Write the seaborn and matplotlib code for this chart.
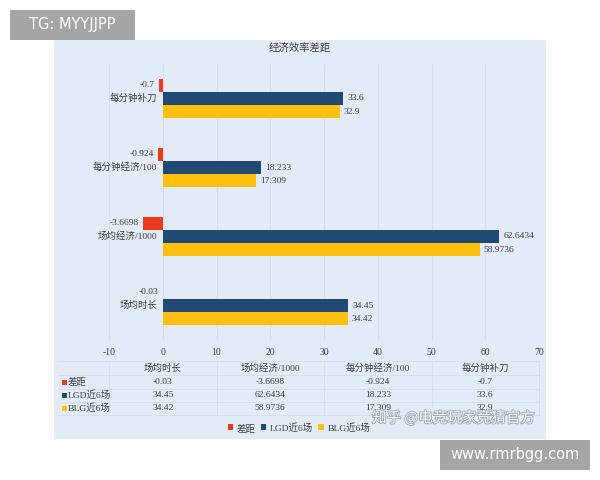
import matplotlib as mpl
mpl.use('Agg')
import matplotlib.pyplot as plt
import matplotlib.patheffects as pe
from matplotlib.patches import Rectangle
import numpy as np
import pandas as pd
import seaborn as sns

# data (category order: top to bottom as drawn)
categories = ["每分钟补刀", "每分钟经济/100", "场均经济/1000", "场均时长"]
series = ["差距", "LGD近6场", "BLG近6场"]
gap_vals = [-0.7, -0.924, -3.6698, -0.03]
lgd_vals = [33.6, 18.233, 62.6434, 34.45]
blg_vals = [32.9, 17.309, 58.9736, 34.42]
gap_txt = ["-0.7", "-0.924", "-3.6698", "-0.03"]
lgd_txt = ["33.6", "18.233", "62.6434", "34.45"]
blg_txt = ["32.9", "17.309", "58.9736", "34.42"]
# the table under the chart lists the categories in Excel order
table_cats = categories[::-1]

COLORS = ["#ee3a1c", "#204a74", "#fdc010"]
PANEL = "#e3ebf6"
TEXT = "#3f3f3f"
GRID = "#d6dfeb"
FONT = ["Liberation Serif", "Noto Sans CJK SC", "DejaVu Sans"]
FS = 6.8

sns.set_theme(style="white")
plt.rcParams['font.family'] = FONT
plt.rcParams['axes.unicode_minus'] = False

df = pd.DataFrame({
    "cat": categories * 3,
    "series": np.repeat(series, len(categories)),
    "value": gap_vals + lgd_vals + blg_vals,
})

W, H = 600, 480
fig = plt.figure(figsize=(6, 4.8), dpi=100)
fig.patch.set_facecolor("white")


def fx(px):
    return px / W


def fy(py):
    return 1 - py / H


# light blue chart panel
fig.add_artist(Rectangle((fx(54), fy(439)), fx(546) - fx(54), fy(40) - fy(439),
                         transform=fig.transFigure, facecolor=PANEL,
                         edgecolor="none", zorder=0))

ax = fig.add_axes([fx(109), fy(340), fx(539) - fx(109), fy(64) - fy(340)])
ax.set_facecolor("none")

sns.barplot(data=df, y="cat", x="value", hue="series", order=categories,
            hue_order=series, palette=COLORS, orient="h", width=0.57,
            errorbar=None, legend=False, saturation=1, linewidth=0, ax=ax)

ax.set_xlim(-10, 70)
ax.set_xticks(np.arange(-10, 71, 10))
ax.set_ylim(len(categories) - 0.5, -0.5)
ax.set_xlabel("")
ax.set_ylabel("")
ax.set_yticks([])
for s in ax.spines.values():
    s.set_visible(False)
ax.grid(axis="x", color=GRID, lw=0.8)
ax.set_axisbelow(True)
ax.tick_params(axis="x", length=0, labelsize=7, labelcolor=TEXT, pad=6)

for cont, labels in zip(ax.containers, [gap_txt, lgd_txt, blg_txt]):
    ax.bar_label(cont, labels=labels, padding=3, fontsize=FS, color=TEXT)

# category names sit next to the zero axis
for i, c in enumerate(categories):
    ax.annotate(c, (0, i), xytext=(-4, 0), textcoords="offset points",
                ha="right", va="center", fontsize=FS, color=TEXT)

fig.text(0.5, fy(48), "经济效率差距", ha="center", va="center",
         fontsize=7.5, color=TEXT)

# data table below the axis
x0, x1 = ax.get_xlim()
ncol = len(table_cats)
col_w = (x1 - x0) / ncol
tr = ax.transData + fig.transFigure.inverted()


def col_fx(xd):
    return tr.transform((xd, 0))[0]


row_y = [368, 382, 395, 408]
rows = [gap_txt[::-1], lgd_txt[::-1], blg_txt[::-1]]
for j, c in enumerate(table_cats):
    cx = col_fx(x0 + col_w * (j + 0.5))
    fig.text(cx, fy(row_y[0]), c, ha="center", va="center", fontsize=FS,
             color=TEXT)
    for r, vals in enumerate(rows):
        fig.text(cx, fy(row_y[r + 1]), vals[j], ha="center", va="center",
                 fontsize=FS, color=TEXT)
for r, (name, col) in enumerate(zip(series, COLORS)):
    fig.add_artist(Rectangle((fx(62), fy(row_y[r + 1] + 2.5)), fx(5), 5 / H,
                             transform=fig.transFigure, facecolor=col,
                             edgecolor="none"))
    fig.text(fx(68), fy(row_y[r + 1]), name, ha="left", va="center",
             fontsize=FS, color=TEXT)

# faint table grid
for j in range(ncol + 1):
    xx = col_fx(x0 + col_w * j)
    fig.add_artist(plt.Line2D([xx, xx], [fy(361), fy(415)], color=GRID,
                              lw=0.6, transform=fig.transFigure))
for yy in [361, 375, 388.5, 401.5, 415]:
    fig.add_artist(plt.Line2D([fx(58), col_fx(x1)], [fy(yy), fy(yy)],
                              color=GRID, lw=0.6, transform=fig.transFigure))

fig.legend(handles=ax.containers, labels=series, loc="center",
           bbox_to_anchor=(fx(299), fy(428)), ncol=3, frameon=False,
           fontsize=FS, handlelength=0.6, handleheight=0.6,
           handletextpad=0.4, columnspacing=0.5, labelcolor=TEXT)

# watermarks / overlays
fig.text(fx(372), fy(418), "知乎 @电竞玩家竞猜官方", ha="left", va="center",
         fontsize=10.5, color="white", alpha=0.9,
         family=["Noto Sans CJK SC", "DejaVu Sans"],
         path_effects=[pe.withStroke(linewidth=1.2, foreground="#9aa3ad")])

fig.add_artist(Rectangle((fx(10), fy(40)), fx(125), 30 / H,
                         transform=fig.transFigure, facecolor="#a5a5a5",
                         edgecolor="none"))
fig.text(fx(72.5), fy(25), "TG: MYYJJPP", ha="center", va="center",
         fontsize=10.5, color="white", family=["DejaVu Sans"])
fig.add_artist(Rectangle((fx(440), fy(470)), fx(150), 30 / H,
                         transform=fig.transFigure, facecolor="#a5a5a5",
                         edgecolor="none"))
fig.text(fx(515), fy(455), "www.rmrbgg.com", ha="center", va="center",
         fontsize=10.5, color="white", family=["DejaVu Sans"])

fig.savefig("out.png", dpi=100, facecolor="white")
